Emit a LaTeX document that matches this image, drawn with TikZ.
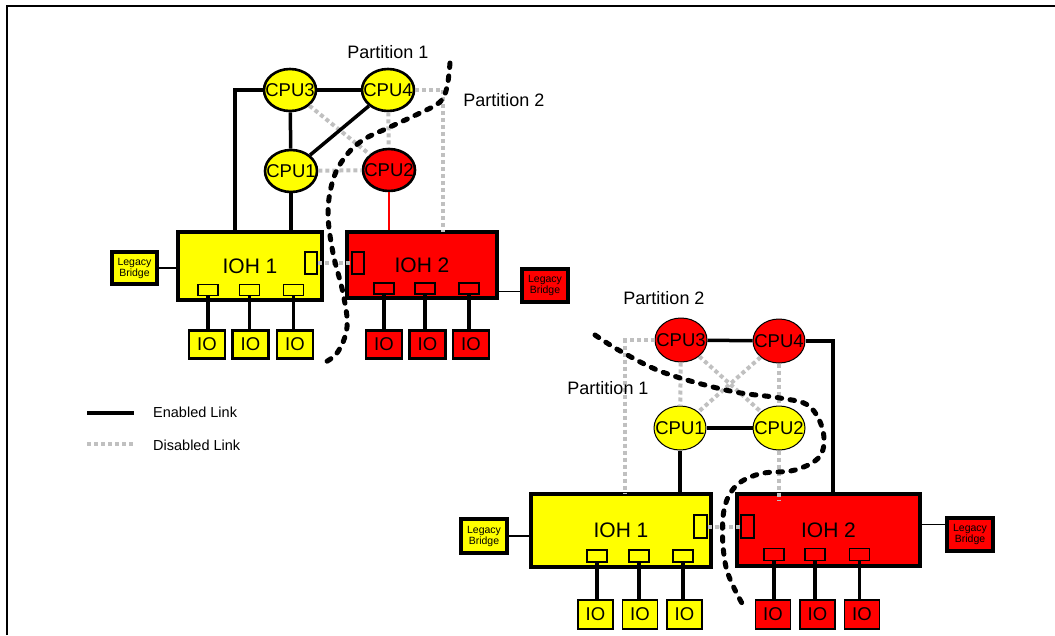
\documentclass[tikz,border=0pt]{standalone}
\usepackage{fontspec}
\setmainfont{Liberation Sans}
\usetikzlibrary{shapes.geometric,calc}
\definecolor{yelfill}{HTML}{FFFF00}
\definecolor{redfill}{HTML}{FF0000}
\definecolor{linkgray}{HTML}{C0C0C0}
\tikzset{
  cpubox/.style={ellipse,draw,line width=2.6pt,minimum width=52,minimum height=42,inner sep=0pt,
    label={[font=\fontsize{18.5}{18.5}\selectfont,inner sep=0pt]center:#1}},
  cpuyel/.style={cpubox=#1,fill=yelfill},
  cpuhot/.style={cpubox=#1,fill=redfill},
  thincpu/.style={line width=1pt,minimum height=44},
  iohbox/.style={draw,line width=3.6pt,inner sep=0pt,font=\fontsize{21}{21}\selectfont},
  portbox/.style={draw,line width=1.6pt,minimum width=20,minimum height=11,inner sep=0pt},
  vportbox/.style={draw,line width=1.6pt,minimum width=12,minimum height=22,inner sep=0pt},
  iobox/.style={draw,line width=2.8pt,minimum width=36,minimum height=28,inner sep=0pt,
    font=\fontsize{18.5}{18.5}\selectfont},
  thinio/.style={line width=1.2pt,minimum width=35,minimum height=29},
  legacybox/.style={draw,line width=3.4pt,minimum width=45,minimum height=32,inner sep=0pt,
    align=center,font=\fontsize{10.5}{11}\selectfont},
  enabled/.style={line width=3.5pt},
  disabled/.style={draw=linkgray,line width=4pt,dash pattern=on 4pt off 3pt},
  redlink/.style={draw=redfill,line width=2.8pt},
  partline/.style={line width=5pt,dash pattern=on 4.5pt off 8.5pt,line cap=round},
  parttext/.style={font=\fontsize{18}{18}\selectfont},
  legendtext/.style={font=\fontsize{14.5}{15}\selectfont,anchor=west,inner sep=0pt}
}
\begin{document}
\begin{tikzpicture}[x=1pt,y=-1pt]
  \useasboundingbox (0,0) rectangle (1055,635);
  \draw[line width=1.5pt] (7,635) -- (7,6) -- (1055,6);

  % upper system: partition 1 owns CPU1,3,4
  \node[cpuyel=CPU3] (acpu3) at (290,90) {};
  \node[cpuyel=CPU4] (acpu4) at (388,90) {};
  \node[cpuyel=CPU1] (acpu1) at (291,171) {};
  \node[cpuhot=CPU2] (acpu2) at (389,170) {};
  \node[iohbox,fill=yelfill,minimum width=144,minimum height=68] (aioh1) at (250,266) {IOH 1};
  \node[iohbox,fill=redfill,minimum width=150,minimum height=66] (aioh2) at (422,265) {IOH 2};
  \node[legacybox,fill=yelfill] (alb1) at (134.5,268) {Legacy\\Bridge};
  \node[legacybox,fill=redfill,minimum width=46,minimum height=33] (alb2) at (545,285.5) {Legacy\\Bridge};
  \node[portbox] (ap1) at (208,290) {};
  \node[portbox] (ap2) at (249.5,290) {};
  \node[portbox] (ap3) at (293.5,290) {};
  \node[vportbox] (apr) at (311,263) {};
  \node[portbox] (ap4) at (384,288.5) {};
  \node[portbox] (ap5) at (425,288.5) {};
  \node[portbox] (ap6) at (469,288.5) {};
  \node[vportbox] (apl) at (358,263) {};
  \node[iobox,fill=yelfill] (aio1) at (207,344.5) {\raisebox{-4pt}{IO}};
  \node[iobox,fill=yelfill] (aio2) at (250.5,344.5) {\raisebox{-4pt}{IO}};
  \node[iobox,fill=yelfill] (aio3) at (295,344.5) {\raisebox{-4pt}{IO}};
  \node[iobox,fill=redfill] (aio4) at (384,344.5) {\raisebox{-4pt}{IO}};
  \node[iobox,fill=redfill] (aio5) at (427.5,344.5) {\raisebox{-4pt}{IO}};
  \node[iobox,fill=redfill] (aio6) at (471,344.5) {\raisebox{-4pt}{IO}};
  \coordinate (a1up) at (235,232);
  \coordinate (a2up) at (443,232);

  \draw[disabled] (acpu1) -- (acpu2);
  \draw[disabled] (acpu3) -- (acpu2);
  \draw[disabled] (acpu4) -- (acpu2);
  \draw[disabled] (acpu4.east) -| (a2up);
  \draw[disabled] (apr) -- (apl);
  \draw[enabled] (acpu3.west) -| (a1up);
  \draw[enabled] (acpu3) -- (acpu4);
  \draw[enabled] (acpu3) -- (acpu1);
  \draw[enabled] (acpu4) -- (acpu1);
  \draw[enabled] (acpu1.south) -- (acpu1.south |- aioh1.north);
  \draw[redlink] (acpu2.south) -- (acpu2.south |- aioh2.north);
  \draw[line width=1.5pt] (alb1.east) -- (alb1.east -| aioh1.west);
  \draw[line width=1.5pt] ([yshift=-6pt]alb2.west) -- ([yshift=-6pt]alb2.west -| aioh2.east);
  \foreach \p/\q in {ap1/aio1,ap2/aio2,ap3/aio3,ap4/aio4,ap5/aio5,ap6/aio6}
    \draw[enabled] (\p.south) -- (\p.south |- \q.north);

  \draw[partline] plot[smooth,tension=0.6] coordinates {(450,63) (447,87) (440,102) (420,113)
    (390,127) (363,140) (345,157) (333,180) (328,213) (333,253) (343,293) (347,327) (337,353) (320,365)};
  \node[parttext] (apart1) at (388,52) {Partition 1};
  \node[parttext] (apart2) at (504,100) {Partition 2};

  % lower system: partition 1 owns CPU1,2
  \node[cpuhot=CPU3,thincpu] (bcpu3) at (681,340) {};
  \node[cpuhot=CPU4,thincpu] (bcpu4) at (779,341) {};
  \node[cpuyel=CPU1,thincpu] (bcpu1) at (680,428) {};
  \node[cpuyel=CPU2,thincpu] (bcpu2) at (779,428) {};
  \node[iohbox,fill=yelfill,minimum width=180,minimum height=73] (bioh1) at (621,530.5) {IOH 1};
  \node[iohbox,fill=redfill,minimum width=183,minimum height=72] (bioh2) at (828.5,530) {IOH 2};
  \node[legacybox,fill=yelfill,minimum width=46,minimum height=34] (blb1) at (484,536) {Legacy\\Bridge};
  \node[legacybox,fill=redfill,minimum width=46,minimum height=33] (blb2) at (970,534.5) {Legacy\\Bridge};
  \node[portbox,minimum height=12] (bp1) at (597,556) {};
  \node[portbox,minimum height=12] (bp2) at (639,556) {};
  \node[portbox,minimum height=12] (bp3) at (683,556) {};
  \node[vportbox,minimum width=13,minimum height=23] (bpr) at (700.5,526.5) {};
  \node[portbox,minimum height=12] (bp4) at (774,554.5) {};
  \node[portbox,minimum height=12] (bp5) at (815,554.5) {};
  \node[portbox,minimum height=12] (bp6) at (859.5,554.5) {};
  \node[vportbox,minimum width=13,minimum height=23] (bpl) at (747.5,526.5) {};
  \node[iobox,thinio,fill=yelfill] (bio1) at (595.5,614.5) {\raisebox{-4pt}{IO}};
  \node[iobox,thinio,fill=yelfill] (bio2) at (640,614.5) {\raisebox{-4pt}{IO}};
  \node[iobox,thinio,fill=yelfill] (bio3) at (684.5,614.5) {\raisebox{-4pt}{IO}};
  \node[iobox,thinio,fill=redfill] (bio4) at (773,614.5) {\raisebox{-4pt}{IO}};
  \node[iobox,thinio,fill=redfill] (bio5) at (817.5,614.5) {\raisebox{-4pt}{IO}};
  \node[iobox,thinio,fill=redfill] (bio6) at (862,614.5) {\raisebox{-4pt}{IO}};
  \coordinate (b1up) at (625,494);
  \coordinate (b2up) at (833,494);

  \draw[disabled] (bcpu3.west) -| (b1up);
  \draw[disabled] (bcpu3) -- (bcpu1);
  \draw[disabled] (bcpu4) -- (bcpu2);
  \draw[disabled] (bcpu3) -- (bcpu2);
  \draw[disabled] (bcpu4) -- (bcpu1);
  \draw[disabled] (bcpu2.south) -- ([yshift=-8pt]bcpu2.south |- bioh2.north);
  \draw[disabled] (bpr) -- (bpl);
  \draw[enabled] (bcpu3) -- (bcpu4);
  \draw[enabled] (bcpu4.east) -| (b2up);
  \draw[enabled] (bcpu1) -- (bcpu2);
  \draw[enabled] (bcpu1.south) -- (bcpu1.south |- bioh1.north);
  \draw[line width=1.5pt] (blb1.east) -- (blb1.east -| bioh1.west);
  \draw[line width=1.5pt] ([yshift=10pt]blb2.west) -- ([yshift=10pt]blb2.west -| bioh2.east);
  \foreach \p/\q in {bp1/bio1,bp2/bio2,bp3/bio3,bp4/bio4,bp5/bio5,bp6/bio6}
    \draw[enabled] (\p.south) -- (\p.south |- \q.north);

  \draw[partline] plot[smooth,tension=0.6] coordinates {(595,335) (622,352) (665,373) (730,391)
    (780,398) (809,406) (823,431) (820,456) (795,470) (759,474) (734,488) (723,517) (726,567) (743,605)};
  \node[parttext] (bpart2) at (664,298) {Partition 2};
  \node[parttext] (bpart1) at (608,388) {Partition 1};

  % legend
  \node[legendtext] (lgen) at (153,412) {Enabled Link};
  \node[legendtext] (lgdis) at (153,445) {Disabled Link};
  \draw[enabled,line width=4pt] ($(lgen.west)+(-66,1)$) -- ($(lgen.west)+(-19,1)$);
  \draw[disabled] ($(lgdis.west)+(-66,-1)$) -- ($(lgdis.west)+(-19,-1)$);
\end{tikzpicture}
\end{document}
